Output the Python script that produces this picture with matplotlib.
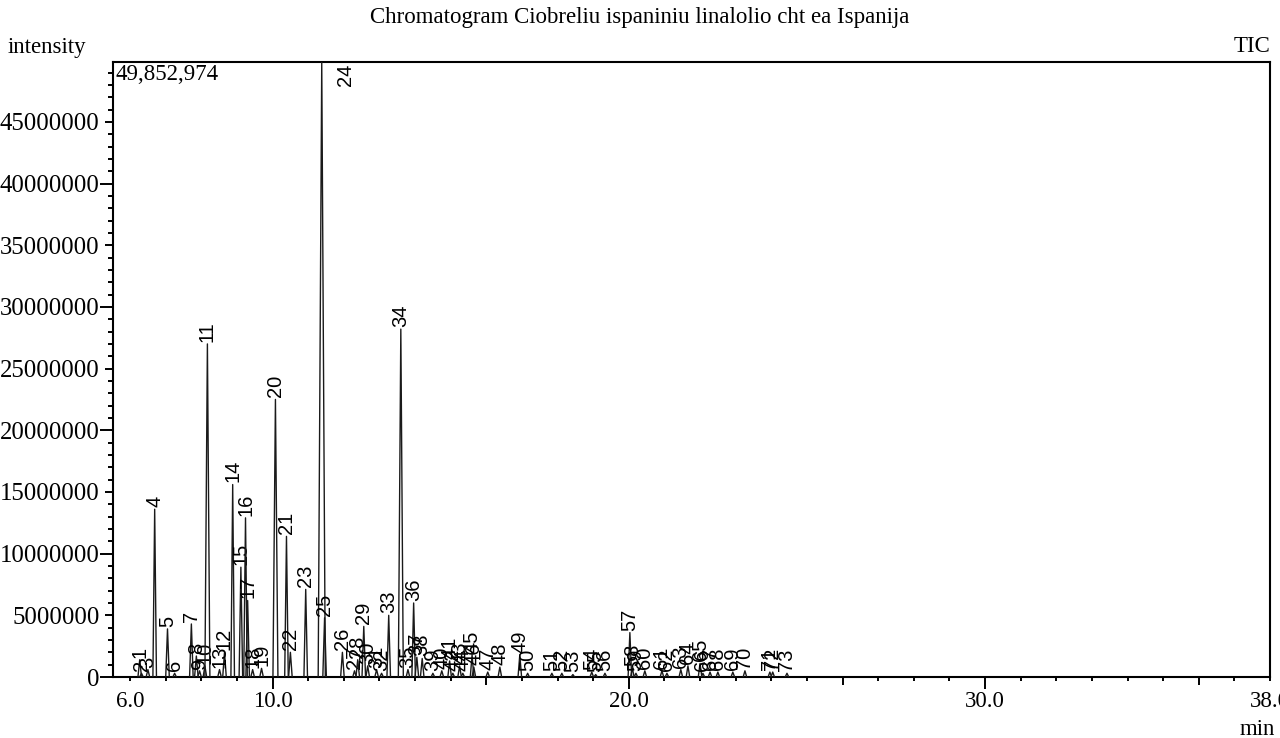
import matplotlib
matplotlib.use("Agg")
import matplotlib.pyplot as plt
from matplotlib.ticker import FixedLocator, MultipleLocator, FuncFormatter

# ---------------- data ----------------
peak_ids = list(range(1, 74))
ret_times = [6.27, 6.32, 6.50, 6.69, 7.05, 7.25, 7.72, 7.86, 7.95, 8.10,
             8.17, 8.65, 8.51, 8.88, 9.11, 9.24, 9.30, 9.44, 9.69, 10.08,
             10.39, 10.50, 10.93, 11.38, 11.46, 11.96, 12.30, 12.39, 12.56, 12.67,
             12.92, 13.06, 13.26, 13.60, 13.80, 13.96, 14.05, 14.20, 14.50, 14.75,
             14.97, 15.06, 15.25, 15.34, 15.60, 15.65, 16.04, 16.38, 16.94, 17.16,
             17.84, 18.12, 18.43, 18.96, 19.07, 19.33, 20.03, 20.10, 20.20, 20.45,
             20.93, 21.07, 21.46, 21.66, 22.00, 22.08, 22.28, 22.50, 22.92, 23.26,
             23.96, 24.04, 24.44]
heights = [1.4e6, 0.3e6, 0.6e6, 13.6e6, 3.9e6, 0.3e6, 4.3e6, 1.7e6, 0.5e6, 0.9e6,
           27.0e6, 2.0e6, 0.6e6, 15.6e6, 8.9e6, 12.9e6, 6.2e6, 0.6e6, 0.7e6, 22.5e6,
           11.4e6, 2.0e6, 7.1e6, 49852974, 4.8e6, 2.0e6, 0.5e6, 1.4e6, 4.1e6, 0.9e6,
           0.6e6, 0.3e6, 5.0e6, 28.2e6, 0.6e6, 6.0e6, 1.6e6, 1.5e6, 0.3e6, 0.5e6,
           1.3e6, 0.3e6, 0.9e6, 0.3e6, 1.8e6, 0.8e6, 0.4e6, 0.8e6, 1.8e6, 0.3e6,
           0.3e6, 0.3e6, 0.2e6, 0.4e6, 0.2e6, 0.3e6, 3.6e6, 0.7e6, 0.3e6, 0.5e6,
           0.5e6, 0.3e6, 0.6e6, 0.9e6, 1.1e6, 0.3e6, 0.4e6, 0.4e6, 0.4e6, 0.5e6,
           0.4e6, 0.4e6, 0.3e6]
y_max = 49852974
x_min, x_max = 5.52, 38.0
x_tick_pos = [6.0, 10.0, 20.0, 30.0, 38.0]
x_tick_labels = ["6.0", "10.0", "20.0", "30.0", "38.0"]
y_tick_step = 5000000

title = "Chromatogram Ciobreliu ispaniniu linalolio cht ea Ispanija"

# ---------------- style ----------------
SERIF = ["Liberation Serif", "DejaVu Serif"]
LABEL_FONT = ["Liberation Sans Narrow", "Liberation Sans", "DejaVu Sans"]
FS = 16.5
FS_Y = 17.8
FS_PEAK = 14.5

fig = plt.figure(figsize=(12.8, 7.38), dpi=100)
W, H = 1280, 738
ax = fig.add_axes([113 / W, 1 - 677 / H, (1270 - 113) / W, (677 - 62) / H])
ax.set_xlim(x_min, x_max)
ax.set_ylim(0, y_max)

# baseline
ax.plot([x_min, x_max], [0, 0], color="#222222", lw=1.0, zorder=2)

# peaks
for pid, t, h in zip(peak_ids, ret_times, heights):
    w = 0.05
    if h > 20e6:
        w = 0.07
    if h >= y_max * 0.95:
        w = 0.10
    ax.plot([t - w, t, t + w], [0, h, 0], color="#1a1a1a", lw=1.0, zorder=3)
    if h >= y_max * 0.95:
        ax.annotate(str(pid), xy=(t, y_max), xytext=(17, -1), textcoords="offset points",
                    rotation=90, ha="center", va="top", fontsize=FS_PEAK, family=LABEL_FONT,
                    annotation_clip=False)
    else:
        ax.annotate(str(pid), xy=(t, h), xytext=(0, 1.5), textcoords="offset points",
                    rotation=90, ha="center", va="bottom", fontsize=FS_PEAK, family=LABEL_FONT,
                    annotation_clip=False)

# spines
for s in ax.spines.values():
    s.set_linewidth(1.5)
    s.set_color("black")

# x ticks
ax.xaxis.set_major_locator(FixedLocator(x_tick_pos))
ax.set_xticklabels(x_tick_labels, family=SERIF, fontsize=FS)
minor_x = [float(v) for v in range(6, 38) if v not in (10, 20, 30)]
ax.xaxis.set_minor_locator(FixedLocator(minor_x))
ax.tick_params(axis="x", which="major", direction="out", length=8.6, width=1.4, pad=1.5)
ax.tick_params(axis="x", which="minor", direction="out", length=3.0, width=1.4)
for tk, pos in zip(ax.xaxis.get_major_ticks(), x_tick_pos):
    if pos in (6.0, 38.0):
        tk.tick1line.set_markersize(3.0)
for tk, pos in zip(ax.xaxis.get_minor_ticks(), minor_x):
    if pos in (15.0, 25.0, 35.0):
        tk.tick1line.set_markersize(5.8)

# y ticks
y_major = [i * y_tick_step for i in range(0, 10)]
ax.yaxis.set_major_locator(FixedLocator(y_major))
ax.yaxis.set_major_formatter(FuncFormatter(lambda v, p: "%d" % int(round(v))))
ax.yaxis.set_minor_locator(MultipleLocator(1000000))
ax.tick_params(axis="y", which="major", direction="out", length=9.4, width=1.4, pad=0.3,
               labelsize=FS_Y)
ax.tick_params(axis="y", which="minor", direction="out", length=3.6, width=1.4)
for lab in ax.get_yticklabels():
    lab.set_family(SERIF)
for tk, pos in zip(ax.yaxis.get_major_ticks(), y_major):
    if (pos // y_tick_step) % 2 == 1:
        tk.tick1line.set_markersize(5.8)

ax.tick_params(top=False, right=False)

# texts
fig.text(0.5, 1 - 18 / H, title, ha="center", va="center", family=SERIF, fontsize=FS)
fig.text(8 / W, 1 - 47 / H, "intensity", ha="left", va="center", family=SERIF, fontsize=FS)
fig.text(1270 / W, 1 - 47 / H, "TIC", ha="right", va="center", family=SERIF, fontsize=FS)
fig.text(116 / W, 1 - 74 / H, f"{y_max:,}", ha="left", va="center", family=SERIF, fontsize=FS)
fig.text(1257 / W, 1 - 735 / H, "min", ha="center", va="baseline", family=SERIF, fontsize=FS)

fig.savefig("out.png", dpi=100)
